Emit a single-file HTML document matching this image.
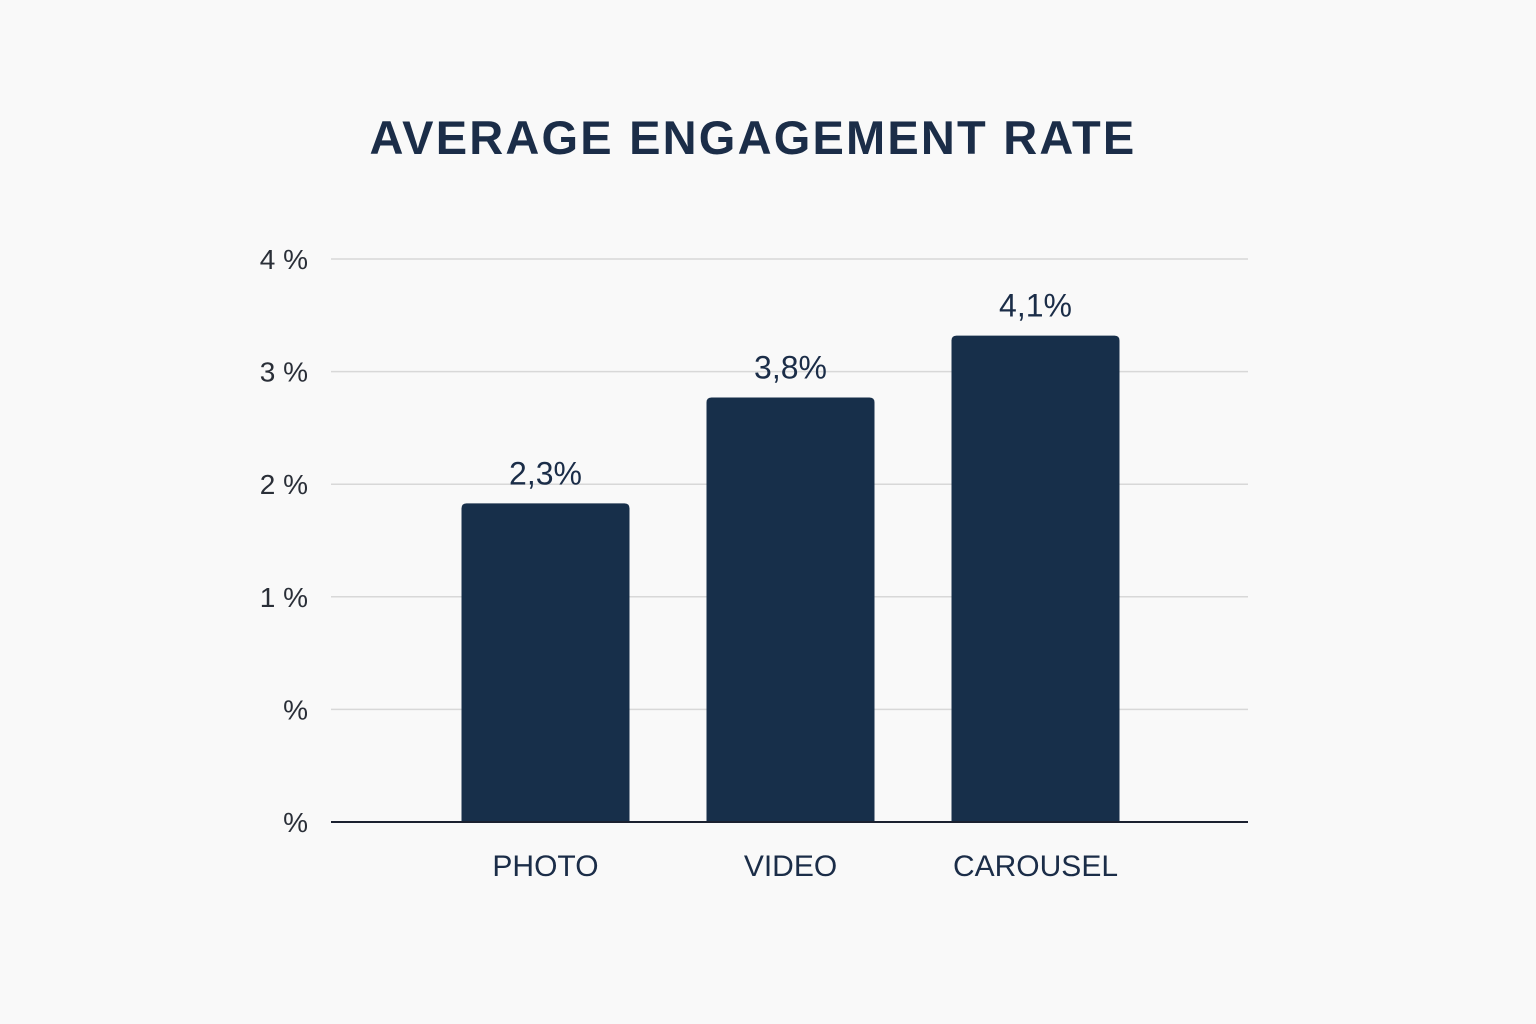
<!DOCTYPE html>
<html><head><meta charset="utf-8"><style>
body{margin:0;background:#f9f9f9;}
svg{display:block;font-family:"Liberation Sans",sans-serif;}
</style></head><body>
<svg id="chart" width="1536" height="1024" viewBox="0 0 1536 1024">
<rect width="1536" height="1024" fill="#f9f9f9"/>
<text x="753" y="154" text-anchor="middle" font-size="47" font-weight="bold" letter-spacing="2.2" fill="#1b2d48">AVERAGE ENGAGEMENT RATE</text>
<g id="grid"></g><g id="bars"></g>
</svg>
<script>
const categories = ["PHOTO","VIDEO","CAROUSEL"];
const values = [2.83,3.77,4.32];
const valueLabels = ["2,3%","3,8%","4,1%"];
const tickValues = [0,1,2,3,4,5];
const tickLabels = ["%","%","1 %","2 %","3 %","4 %"];
const NS="http://www.w3.org/2000/svg";
const y0=822, unit=112.6;
function y(v){return y0-v*unit;}
const xLeft=331,xRight=1248,bandStart=423,band=245,barW=168;
function xc(i){return bandStart+band*i+band/2;}
const grid=document.getElementById('grid'),bars=document.getElementById('bars');
function mk(t,a,p){const e=document.createElementNS(NS,t);for(const k in a)e.setAttribute(k,a[k]);p.appendChild(e);return e;}
tickValues.forEach((v,i)=>{
  if(v>0){const l=mk('line',{x1:xLeft,x2:xRight,y1:y(v),y2:y(v),stroke:'#d8d8d8','stroke-width':1.5},grid);
  
  }
  const t=mk('text',{x:308,y:y(v)+10,'text-anchor':'end','font-size':28,fill:'#2a2f38'},grid);
  t.textContent=tickLabels[i];
  
  
});
categories.forEach((c,i)=>{
  const x=xc(i)-barW/2,top=y(values[i]);
  const b=mk('path',{d:`M${x},${y0} V${top+5} Q${x},${top} ${x+5},${top} H${x+barW-5} Q${x+barW},${top} ${x+barW},${top+5} V${y0} Z`,fill:'#172f4a'},bars);
  
  
  const vl=mk('text',{x:xc(i),y:top-19,'text-anchor':'middle','font-size':32,fill:'#1b2d48'},bars);
  vl.textContent=valueLabels[i];
  
  
  const cl=mk('text',{x:xc(i),y:876,'text-anchor':'middle','font-size':30,fill:'#1b2d48'},bars);
  cl.textContent=c;
  
  
});
const ax=mk('line',{x1:xLeft,x2:xRight,y1:y0,y2:y0,stroke:'#1b2130','stroke-width':2},bars);


</script>
</body></html>
